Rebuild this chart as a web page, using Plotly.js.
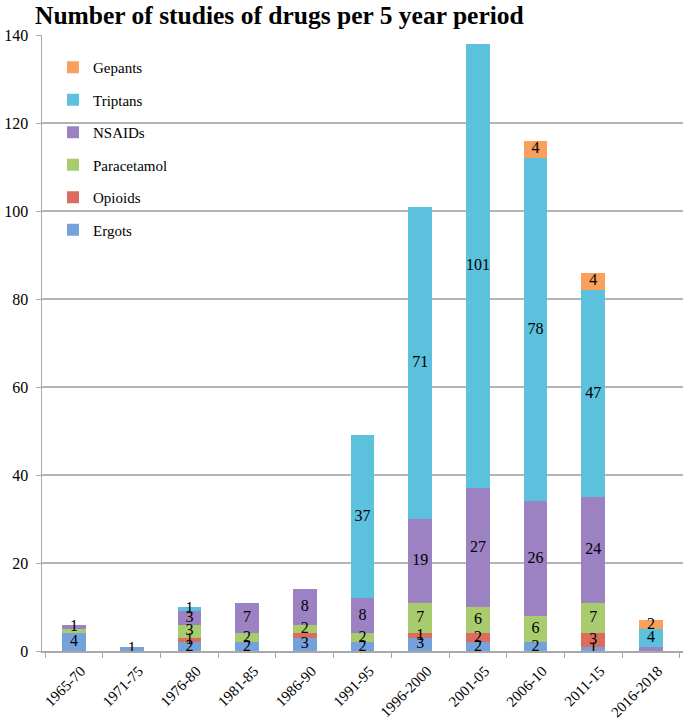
<!DOCTYPE html>
<html>
<head>
<meta charset="utf-8">
<script src="https://cdn.plot.ly/plotly-3.0.1.min.js"></script>
<style>html,body{margin:0;padding:0;background:#fff;}#chart{width:685px;height:722px;}</style>
</head>
<body>
<div id="chart"></div>
<script>
const periods = ["1965-70","1971-75","1976-80","1981-85","1986-90","1991-95","1996-2000","2001-05","2006-10","2011-15","2016-2018"];
const ergots      = [4, 1, 2, 2, 3, 2, 3, 2, 2, 1, 0];
const opioids     = [0, 0, 1, 0, 1, 0, 1, 2, 0, 3, 0];
const paracetamol = [1, 0, 3, 2, 2, 2, 7, 6, 6, 7, 0];
const nsaids      = [1, 0, 3, 7, 8, 8, 19, 27, 26, 24, 1];
const triptans    = [0, 0, 1, 0, 0, 37, 71, 101, 78, 47, 4];
const gepants     = [0, 0, 0, 0, 0, 0, 0, 0, 4, 4, 2];
// data labels not shown in the original: [series name, period]
const hiddenLabels = [["Paracetamol","1965-70"],["Opioids","1986-90"],["NSAIDs","2016-2018"]];
const yTicks = [0,20,40,60,80,100,120,140];

const series = [
  {name:"Ergots", values:ergots, color:"#75a2da"},
  {name:"Opioids", values:opioids, color:"#dc6d5e"},
  {name:"Paracetamol", values:paracetamol, color:"#a8cb6d"},
  {name:"NSAIDs", values:nsaids, color:"#9c82c3"},
  {name:"Triptans", values:triptans, color:"#5bc1dc"},
  {name:"Gepants", values:gepants, color:"#f8a05c"}
];

const serif = "Liberation Serif, Times New Roman, serif";
const traces = [];
series.forEach((s, i) => {
  traces.push({
    type:"bar", name:s.name, x:periods, y:s.values,
    marker:{color:s.color, line:{width:0}},
    legendgroup:"g"+i, legendrank:series.length - i, hoverinfo:"skip"
  });
});
// label trace: centered in each segment
const cum = periods.map(() => 0);
const lx = [], ly = [], lt = [];
series.forEach(s => {
  s.values.forEach((v, j) => {
    if (v > 0) {
      const hidden = hiddenLabels.some(h => h[0] === s.name && h[1] === periods[j]);
      if (!hidden) { lx.push(periods[j]); ly.push(cum[j] + v / 2); lt.push(String(v)); }
    }
    cum[j] += v;
  });
});
traces.push({
  type:"scatter", mode:"text", x:lx, y:ly, text:lt,
  textfont:{family:serif, size:16, color:"#000"},
  showlegend:false, hoverinfo:"skip", cliponaxis:false
});

const layout = {
  width:685, height:722,
  margin:{l:42, r:2, t:35, b:71},
  paper_bgcolor:"#fff", plot_bgcolor:"#fff",
  barmode:"stack", bargap:0.59,
  title:{text:"<b>Number of studies of drugs per 5 year period</b>", x:35/685, xanchor:"left", xref:"container", y:1-15/722, yanchor:"middle", yref:"container",
         font:{family:serif, size:25.5, color:"#000"}},
  xaxis:{type:"category", tickangle:-45, tickfont:{family:serif, size:15, color:"#000"},
         showline:true, linecolor:"#a8a8a8", linewidth:1.5, ticks:"outside", tickson:"boundaries", ticklen:5, tickcolor:"#a8a8a8",
         showgrid:false, zeroline:false, fixedrange:true, ticklabelstandoff:4, ticklabelshift:7},
  yaxis:{range:[0,140], tickvals:yTicks, tickfont:{family:serif, size:16, color:"#000"},
         showline:true, linecolor:"#a8a8a8", linewidth:1.5, ticks:"outside", ticklen:5, tickcolor:"#a8a8a8",
         showgrid:true, gridcolor:"#b4b4b4", gridwidth:1.5, zeroline:false, fixedrange:true, ticklabelstandoff:4},
  legend:{x:(53-42)/641, y:(651-51)/616, xanchor:"left", yanchor:"top", traceorder:"grouped", tracegroupgap:10,
          font:{family:serif, size:15, color:"#000"}, bgcolor:"rgba(0,0,0,0)"},
  showlegend:true
};
Plotly.newPlot("chart", traces, layout, {staticPlot:true, displayModeBar:false});
</script>
</body>
</html>
